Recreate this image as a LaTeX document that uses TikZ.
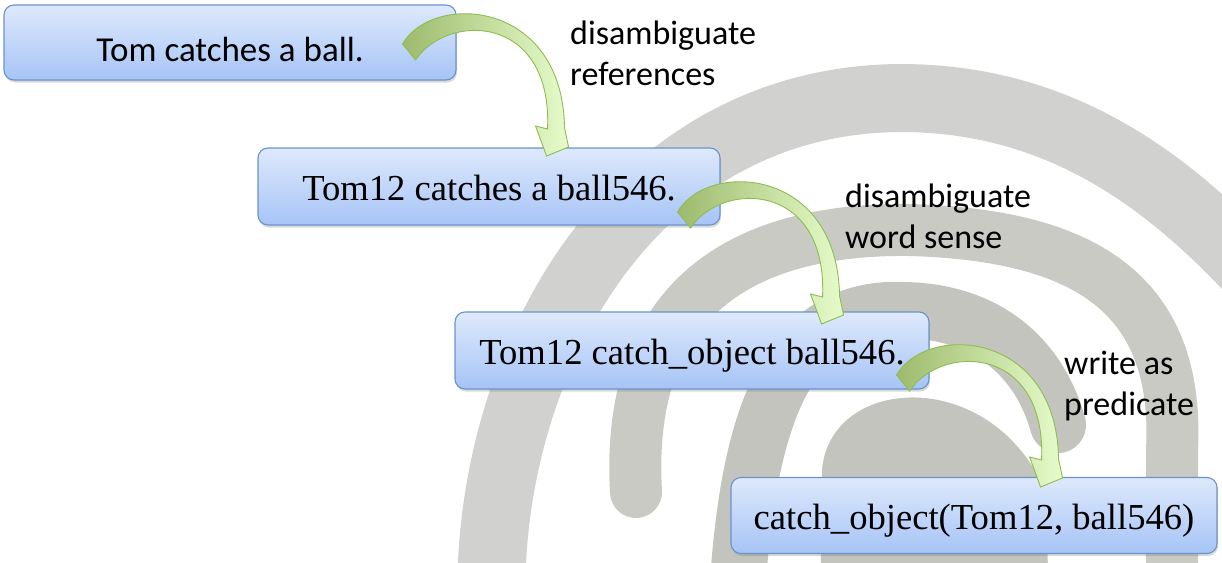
\documentclass[tikz,border=0pt]{standalone}
\usepackage{fontspec}
\setmainfont{Liberation Serif}
\newfontfamily\calib{Carlito}
\usetikzlibrary{calc,shadows}
\definecolor{boxtop}{HTML}{DEE9FC}
\definecolor{boxbot}{HTML}{A6C4F6}
\definecolor{boxline}{HTML}{6B93CB}
\definecolor{spiralA}{HTML}{D1D1CF}
\definecolor{spiralB}{HTML}{C9CAC4}
\definecolor{spiralC}{HTML}{C3C4BD}
\definecolor{arrdark}{HTML}{9DBA6E}
\definecolor{arrmid}{HTML}{C3DC9C}
\definecolor{arrlight}{HTML}{E6FBCB}
\definecolor{arrline}{HTML}{8DBD4E}
\begin{document}
\begin{tikzpicture}[x=1pt,y=-1pt,
  box/.style={rounded corners=10pt, draw=boxline, line width=1.1pt,
    top color=boxtop, bottom color=boxbot, inner sep=0pt,
    drop shadow={shadow xshift=1pt, shadow yshift=-2.5pt, opacity=.3}},
  sanbox/.style={box, font={\calib\fontsize{35}{42}\selectfont}, text height=37pt, text depth=0pt},
  serbox/.style={box, font={\fontsize{36.6}{44}\selectfont}, text height=28pt, text depth=0pt},
  lbl/.style={anchor=north west, align=left, inner sep=0pt, font={\calib\fontsize{34}{41}\selectfont}},
  band/.style={line cap=round, fill=none},
  arrowfill/.style={draw=arrline, line width=0.9pt, left color=arrdark, right color=arrlight, middle color=arrmid},
  carrow/.pic={
    \path[arrowfill] (0,0) .. controls (30,-52) and (160,-45) .. (162,84)
      -- (166,103) -- (144,112) -- (133,82) -- (145,85)
      .. controls (150,-30) and (45,-32) .. (13,16) -- cycle;
  }]
\useasboundingbox (0,0) rectangle (1222,562);
% background spiral
\begin{scope}
\clip (0,0) rectangle (1222,562);
\draw[band, draw=spiralA, line width=68pt] (492,620) .. controls (480,380) and (620,100) .. (900,98)
   .. controls (1050,98) and (1160,170) .. (1260,280);
\draw[band, draw=spiralB, line width=52pt] (636,492) .. controls (625,300) and (740,228) .. (910,230)
   .. controls (1080,235) and (1180,290) .. (1172,450) -- (1172,620);
\draw[band, draw=spiralC, line width=56pt] (736,620) .. controls (745,390) and (800,305) .. (905,310)
   .. controls (990,312) and (1040,360) .. (1058,425);
\fill[spiralC] (820,620) -- (822,470) .. controls (830,375) and (990,365) .. (1045,490) -- (1050,620) -- cycle;
\end{scope}
% boxes
\node[sanbox, minimum width=452pt, minimum height=75pt] (b1) at (230,42.5) {Tom catches a ball.};
\node[serbox, minimum width=462pt, minimum height=77pt] (b2) at (489,186.5) {Tom12 catches a ball546.};
\node[serbox, minimum width=474pt, minimum height=77pt] (b3) at (692,350.5) {Tom12 catch\_object ball546.};
\node[serbox, minimum width=486pt, minimum height=76pt] (b4) at (974,515.5) {catch\_object(Tom12, ball546)};
% curved block arrows
\pic at ($(b1.east)+(-54,1.5)$) {carrow};
\pic at ($(b2.east)+(-43,25.5)$) {carrow};
\pic at ($(b3.east)+(-33,24.5)$) {carrow};
% labels
\node[lbl] (l1) at (570,21) {disambiguate\\references};
\node[lbl] (l2) at (845,184) {disambiguate\\word sense};
\node[lbl] (l3) at (1064,351) {\vphantom{d}write as\\predicate};
\end{tikzpicture}
\end{document}
